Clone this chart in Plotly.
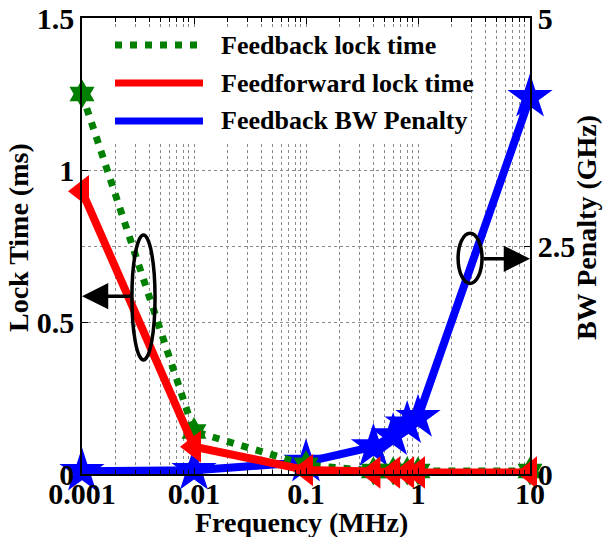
import numpy as np
import plotly.graph_objects as go

# Offset frequency (MHz)
freq = [0.001, 0.01, 0.1, 0.4, 0.6, 0.8, 1, 10]
# Lock time (ms)
feedback_lock = [1.25, 0.14, 0.03, 0.01, 0.01, 0.01, 0.01, 0.01]
feedforward_lock = [0.93, 0.09, 0.013, 0.005, 0.005, 0.005, 0.005, 0.005]
# Bandwidth penalty (GHz)
bw_penalty = [0.03, 0.04, 0.13, 0.30, 0.42, 0.55, 0.62, 4.13]

x_ticks = [0.001, 0.01, 0.1, 1, 10]
x_ticktext = ["0.001", "0.01", "0.1", "1", "10"]
lock_ticks = [0, 0.5, 1, 1.5]
lock_ticktext = ["0", "0.5", "1", "1.5"]
bw_ticks = [0, 2.5, 5]
bw_ticktext = ["0", "2.5", "5"]

FONT = "Liberation Serif"
GRID = "#8a8a8a"
W, H = 603, 537
ML, MR, MT, MB = 82, 73, 18, 63
PW, PH = W - ML - MR, H - MT - MB


def px_x(px):
    """Horizontal pixel -> paper fraction."""
    return (px - ML) / PW


def px_y(py):
    """Vertical pixel (from top) -> paper fraction."""
    return (H - MB - py) / PH


minor_vals = [m * 10.0 ** e for e in range(-3, 1) for m in range(2, 10)]

fig = go.Figure()

# BW penalty on the base (right-hand) axis so the lock-time traces sit on top
fig.add_trace(go.Scatter(
    x=freq, y=bw_penalty, name="Feedback BW Penalty", yaxis="y",
    mode="lines+markers", showlegend=False, cliponaxis=False,
    line=dict(color="#0000ff", width=8),
    marker=dict(symbol="star", size=34, color="#0000ff"),
))
fig.add_trace(go.Scatter(
    x=freq, y=feedback_lock, name="Feedback lock time", yaxis="y2",
    mode="lines+markers", showlegend=False, cliponaxis=False,
    line=dict(color="#007f00", width=7, dash="7px,8px"),
    marker=dict(symbol="hexagram", size=22, color="#007f00"),
))
fig.add_trace(go.Scatter(
    x=freq, y=feedforward_lock, name="Feedforward lock time", yaxis="y2",
    mode="lines+markers", showlegend=False, cliponaxis=False,
    line=dict(color="#ff0000", width=8),
    marker=dict(symbol="triangle-left", size=28, color="#ff0000"),
))

tickfont = dict(family=FONT, size=30, color="black", weight="bold")
titlefont = dict(family=FONT, size=28, color="black", weight="bold")
legfont = dict(family=FONT, size=26, color="black", weight="bold")

axis_common = dict(
    tickfont=tickfont, ticks="inside", ticklen=6, tickcolor="black",
    showline=True, linecolor="black", linewidth=1.5,
    showgrid=True, gridcolor=GRID, griddash="dot", gridwidth=1,
    zeroline=False, automargin=False,
)

fig.update_layout(
    width=W, height=H,
    margin=dict(l=ML, r=MR, t=MT, b=MB),
    paper_bgcolor="white", plot_bgcolor="white",
    showlegend=False,
    xaxis=dict(
        type="log", range=[-3, 1],
        tickvals=x_ticks, ticktext=x_ticktext, mirror="ticks",
        ticklabelstandoff=-8,
        minor=dict(tickvals=minor_vals, ticks="inside", ticklen=4,
                   tickcolor="black", showgrid=True, gridcolor=GRID,
                   griddash="dot", gridwidth=1),
        **axis_common,
    ),
    yaxis=dict(
        side="right", range=[0, 5],
        tickvals=bw_ticks, ticktext=bw_ticktext,
        **axis_common,
    ),
    yaxis2=dict(
        overlaying="y", side="left", range=[0, 1.5],
        tickvals=lock_ticks, ticktext=lock_ticktext,
        **axis_common,
    ),
)

# Axis titles
fig.add_annotation(text="Frequency (MHz)", xref="paper", yref="paper",
                   x=px_x(301), y=px_y(522), xanchor="center", yanchor="middle",
                   showarrow=False, font=titlefont)
fig.add_annotation(text="Lock Time (ms)", xref="paper", yref="paper",
                   x=px_x(19), y=px_y(238), xanchor="center", yanchor="middle",
                   textangle=-90, showarrow=False, font=titlefont)
fig.add_annotation(text="BW Penalty (GHz)", xref="paper", yref="paper",
                   x=px_x(586), y=px_y(228), xanchor="center", yanchor="middle",
                   textangle=-90, showarrow=False, font=titlefont)

# Legend box with long line samples
fig.add_shape(type="rect", xref="paper", yref="paper",
              x0=px_x(108), x1=px_x(470), y0=px_y(143), y1=px_y(29),
              fillcolor="white", line=dict(width=0), layer="above")
legend_rows = [
    ("Feedback lock time", "#007f00", "7px,8px", 45),
    ("Feedforward lock time", "#ff0000", "solid", 83),
    ("Feedback BW Penalty", "#0000ff", "solid", 121),
]
for label, color, dash, ypx in legend_rows:
    fig.add_shape(type="line", xref="paper", yref="paper",
                  x0=px_x(115), x1=px_x(203), y0=px_y(ypx), y1=px_y(ypx),
                  line=dict(color=color, width=7, dash=dash), layer="above")
    fig.add_annotation(text=label, xref="paper", yref="paper",
                       x=px_x(219), y=px_y(ypx), xanchor="left", yanchor="middle",
                       showarrow=False, font=legfont)

# Ellipses grouping each curve set, with arrows to its axis
fig.add_shape(type="circle", xref="x", yref="y2",
              x0=0.00279, x1=0.00449, y0=0.375, y1=0.786,
              line=dict(color="black", width=3.5))
fig.add_shape(type="circle", xref="x", yref="y",
              x0=2.28, x1=3.73, y0=2.09, y1=2.64,
              line=dict(color="black", width=3.5))

fig.add_annotation(x=np.log10(0.001), y=0.585, xref="x", yref="y2",
                   ax=50, ay=0, showarrow=True, arrowhead=2,
                   arrowsize=1.5, arrowwidth=3.5, arrowcolor="black", text="")
fig.add_annotation(x=np.log10(10), y=2.36, xref="x", yref="y",
                   ax=-48, ay=0, showarrow=True, arrowhead=2,
                   arrowsize=1.5, arrowwidth=3.5, arrowcolor="black", text="")

fig.write_html("out.html")
